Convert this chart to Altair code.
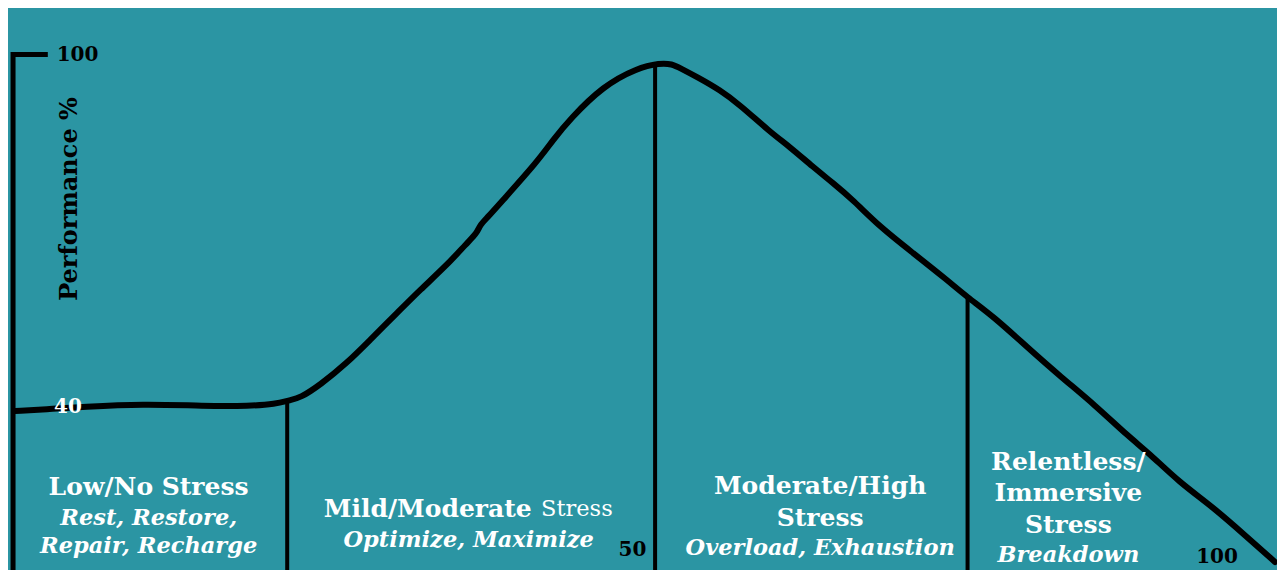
import altair as alt
import pandas as pd

TEAL = "#2B95A3"
FONT = "DejaVu Serif"

# scale domains (stress 0-100 on x, performance % on y)
X_DOMAIN = [-0.56, 100.16]
Y_DOMAIN = [12.4, 108.14]
FLOOR = 12.4

# performance curve
curve_x = [0.00, 2.78, 5.32, 10.16, 15.00, 18.65, 20.63, 21.83, 22.62, 24.21,
           26.35, 28.17, 30.32, 32.14, 34.29, 35.87, 36.67, 36.90, 37.46, 38.73,
           41.43, 42.70, 44.05, 46.67, 49.37, 51.19, 52.14, 52.78, 54.13, 55.95,
           57.54, 59.92, 61.51, 63.33, 64.92, 66.51, 68.65, 71.27, 73.97, 75.56,
           77.70, 80.32, 83.02, 85.71, 88.41, 90.00, 92.38, 95.08, 97.78, 100.00]
curve_y = [39.49, 39.83, 40.17, 40.68, 40.34, 40.34, 40.68, 41.36, 41.70, 43.92,
           47.67, 51.58, 56.18, 60.10, 64.36, 68.11, 69.81, 71.18, 72.37, 75.43,
           81.91, 85.66, 89.23, 94.85, 97.92, 98.77, 98.60, 97.92, 96.39, 94.17,
           91.62, 87.02, 84.46, 81.06, 78.33, 75.43, 70.83, 66.41, 61.81, 58.91,
           55.50, 50.39, 45.28, 40.51, 35.06, 32.33, 27.39, 23.13, 18.02, 13.76]

# zone dividers
divider_x = [21.6, 50.8, 75.6]
divider_top = [41.0, 98.6, 58.8]

# y axis bracket (tick at 100, then down)
axis_x = [2.6, -0.16, -0.16]
axis_y = [100.2, 100.2, FLOOR]

# tick labels
ytick_text = ["100", "40"]
ytick_x = [3.3, 3.1]
ytick_y = [100.1, 40.2]
ytick_color = ["#000000", "#FFFFFF"]

xtick_text = ["50", "100"]
xtick_x = [49.0, 95.4]
xtick_y = [15.8, 14.6]

# zone labels
bold_text = ["Low/No Stress", "Moderate/High", "Stress", "Relentless/", "Immersive", "Stress"]
bold_x = [10.6, 63.9, 63.9, 83.6, 83.6, 83.6]
bold_y = [26.6, 26.7, 21.3, 30.8, 25.5, 20.1]

italic_text = ["Rest, Restore,", "Repair, Recharge", "Optimize, Maximize",
               "Overload, Exhaustion", "Breakdown"]
italic_x = [10.6, 10.6, 36.0, 63.9, 83.6]
italic_y = [21.3, 16.5, 17.5, 16.1, 15.0]

mixed_bold = ["Mild/Moderate"]
mixed_bold_x = [41.0]
mixed_regular = ["Stress"]
mixed_regular_x = [41.75]
mixed_y = [22.8]

title_text = ["Performance %"]
title_x = [4.4]
title_y = [75.6]

xs = alt.Scale(domain=X_DOMAIN, nice=False, zero=False)
ys = alt.Scale(domain=Y_DOMAIN, nice=False, zero=False)


def X(f="x"):
    return alt.X(f"{f}:Q", scale=xs, axis=None)


def Y(f="y"):
    return alt.Y(f"{f}:Q", scale=ys, axis=None)


curve_df = pd.DataFrame({"x": curve_x, "y": curve_y, "o": range(len(curve_x))})
curve = alt.Chart(curve_df).mark_line(
    color="black", strokeWidth=6, interpolate="basis", strokeCap="round", strokeJoin="round"
).encode(x=X(), y=Y(), order="o:Q")

div_df = pd.DataFrame({"x": divider_x, "y": divider_top, "y2": [FLOOR] * len(divider_x)})
dividers = alt.Chart(div_df).mark_rule(color="black", strokeWidth=4).encode(
    x=X(), y=Y(), y2="y2:Q"
)

axis_df = pd.DataFrame({"x": axis_x, "y": axis_y, "o": range(len(axis_x))})
axis_line = alt.Chart(axis_df).mark_line(
    color="black", strokeWidth=5, strokeJoin="miter", strokeCap="butt"
).encode(x=X(), y=Y(), order="o:Q")

ytick_df = pd.DataFrame({"t": ytick_text, "x": ytick_x, "y": ytick_y, "c": ytick_color})
yticks = alt.Chart(ytick_df).mark_text(
    font=FONT, fontSize=20, fontWeight="bold", align="left", baseline="middle"
).encode(x=X(), y=Y(), text="t:N", color=alt.Color("c:N", scale=None))

xtick_df = pd.DataFrame({"t": xtick_text, "x": xtick_x, "y": xtick_y})
xticks = alt.Chart(xtick_df).mark_text(
    font=FONT, fontSize=20, fontWeight="bold", align="center", baseline="middle", color="black"
).encode(x=X(), y=Y(), text="t:N")

bold_df = pd.DataFrame({"t": bold_text, "x": bold_x, "y": bold_y})
bold = alt.Chart(bold_df).mark_text(
    font=FONT, fontSize=25, fontWeight="bold", align="center", baseline="middle", color="white"
).encode(x=X(), y=Y(), text="t:N")

italic_df = pd.DataFrame({"t": italic_text, "x": italic_x, "y": italic_y})
italic = alt.Chart(italic_df).mark_text(
    font=FONT, fontSize=22.5, fontWeight="bold", fontStyle="italic", align="center",
    baseline="middle", color="white"
).encode(x=X(), y=Y(), text="t:N")

mb_df = pd.DataFrame({"t": mixed_bold, "x": mixed_bold_x, "y": mixed_y})
mixed_b = alt.Chart(mb_df).mark_text(
    font=FONT, fontSize=25, fontWeight="bold", align="right", baseline="middle", color="white"
).encode(x=X(), y=Y(), text="t:N")

mr_df = pd.DataFrame({"t": mixed_regular, "x": mixed_regular_x, "y": mixed_y})
mixed_r = alt.Chart(mr_df).mark_text(
    font=FONT, fontSize=22.5, fontWeight="normal", align="left", baseline="middle", color="white"
).encode(x=X(), y=Y(), text="t:N")

title_df = pd.DataFrame({"t": title_text, "x": title_x, "y": title_y})
title = alt.Chart(title_df).mark_text(
    font=FONT, fontSize=24, fontWeight="bold", align="center", baseline="middle",
    color="black", angle=270
).encode(x=X(), y=Y(), text="t:N")

chart = alt.layer(
    dividers, axis_line, curve, yticks, xticks, bold, italic, mixed_b, mixed_r, title
).properties(
    width=1269, height=562,
    autosize=alt.AutoSizeParams(type="none"),
    padding=0, background=TEAL,
).configure_view(stroke=None, fill=TEAL)

chart.save("out.html", embed_options={"renderer": "svg", "actions": False})
